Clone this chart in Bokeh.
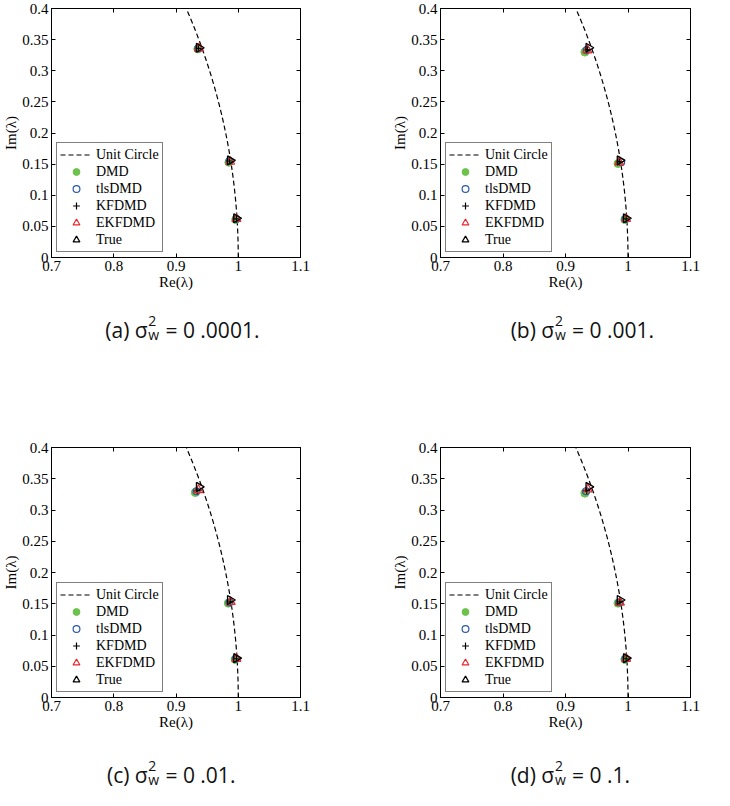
import numpy as np
from bokeh.plotting import figure
from bokeh.models import (Range1d, LinearAxis, FixedTicker, Legend, LegendItem,
                          CustomJSTickFormatter)
from bokeh.layouts import column, row
from bokeh.core.properties import value
from bokeh.embed import file_html
from bokeh.resources import INLINE

# ---------------- data ----------------
panel_letters = ["(a)", "(b)", "(c)", "(d)"]
noise_values = ["= 0 .0001.", "= 0 .001.", "= 0 .01.", "= 0 .1."]

x_ticks = [0.7, 0.8, 0.9, 1.0, 1.1]
x_tick_labels = ["0.7", "0.8", "0.9", "1", "1.1"]
y_ticks = [0, 0.05, 0.1, 0.15, 0.2, 0.25, 0.3, 0.35, 0.4]
y_tick_labels = ["0", "0.05", "0.1", "0.15", "0.2", "0.25", "0.3", "0.35", "0.4"]

legend_labels = ["Unit Circle", "DMD", "tlsDMD", "KFDMD", "EKFDMD", "True"]

true_re = [0.937, 0.987, 0.997]
true_im = [0.337, 0.156, 0.063]

# one list per panel (a), (b), (c), (d)
dmd_re = [[0.935, 0.985, 0.996], [0.931, 0.984, 0.995], [0.931, 0.984, 0.995], [0.931, 0.984, 0.995]]
dmd_im = [[0.335, 0.153, 0.061], [0.330, 0.151, 0.061], [0.328, 0.151, 0.061], [0.327, 0.151, 0.061]]
tls_re = [[0.936, 0.986, 0.997], [0.934, 0.989, 0.996], [0.933, 0.986, 0.996], [0.933, 0.986, 0.996]]
tls_im = [[0.336, 0.155, 0.062], [0.333, 0.153, 0.062], [0.330, 0.152, 0.062], [0.330, 0.152, 0.062]]
kf_re = [[0.936, 0.986, 0.997], [0.935, 0.986, 0.997], [0.934, 0.987, 0.997], [0.934, 0.987, 0.997]]
kf_im = [[0.336, 0.155, 0.062], [0.334, 0.154, 0.062], [0.331, 0.153, 0.062], [0.331, 0.153, 0.062]]
ekf_re = [[0.937, 0.987, 0.997], [0.935, 0.986, 0.997], [0.936, 0.988, 0.997], [0.936, 0.987, 0.997]]
ekf_im = [[0.336, 0.154, 0.062], [0.333, 0.153, 0.062], [0.332, 0.153, 0.062], [0.333, 0.152, 0.062]]

# ---------------- layout (page pixels) ----------------
col_x = [0, 365, 0, 365]          # left edge of each column's figures
col_w = [365, 365, 365, 365]
panel_top = [0, 0, 438, 438]      # top of each panel figure
panel_h = [300, 300, 302, 302]
frames = [(49, 8, 251, 249), (440, 8, 250, 249), (49, 447, 251, 250), (440, 447, 250, 250)]
caption_h = [138, 138, 64, 64]
sigma_end_x = [141, 531, 141, 531]
caption_base_y = [329, 329, 774, 774]

SERIF = "Liberation Serif"
SANS = "Open Sans"
CAP_COLOR = "#111111"

fmt_code = """
for (let i = 0; i < tv.length; i++) { if (Math.abs(tv[i] - tick) < 1e-9) return tl[i]; }
return "";
"""


def style_axis(ax, show):
    ax.major_tick_in = 4
    ax.major_tick_out = 0
    ax.minor_tick_in = 0
    ax.minor_tick_out = 0
    ax.axis_line_color = "black"
    ax.major_tick_line_color = "black"
    if show:
        ax.major_label_text_font = SERIF
        ax.major_label_text_font_size = "15px"
        ax.major_label_text_color = "black"
        ax.major_label_standoff = 3
        ax.axis_label_text_font = SERIF
        ax.axis_label_text_font_size = "15px"
        ax.axis_label_text_font_style = "normal"
        ax.axis_label_text_color = "black"
        ax.axis_label_standoff = 0
    else:
        ax.major_label_text_font_size = "0px"
        ax.major_label_text_color = None
        ax.major_label_standoff = 0


def make_panel(k):
    fx, fy = col_x[k], panel_top[k]
    W, H = col_w[k], panel_h[k]
    fl, ft, fw, fh = frames[k]
    left = fl - fx
    top = ft - fy
    right = W - left - fw
    bottom = H - top - fh

    p = figure(width=W, height=H, x_range=Range1d(0.7, 1.1), y_range=Range1d(0, 0.4),
               output_backend="svg", toolbar_location=None, title=None,
               min_border_left=left, min_border_right=right,
               min_border_top=top, min_border_bottom=bottom,
               x_axis_location=None, y_axis_location=None)
    p.xgrid.visible = False
    p.ygrid.visible = False
    p.outline_line_color = "black"
    p.outline_line_width = 1
    p.background_fill_color = "white"
    p.border_fill_color = "white"

    xfmt = CustomJSTickFormatter(args=dict(tv=x_ticks, tl=x_tick_labels), code=fmt_code)
    yfmt = CustomJSTickFormatter(args=dict(tv=y_ticks, tl=y_tick_labels), code=fmt_code)

    xb = LinearAxis(ticker=FixedTicker(ticks=x_ticks), formatter=xfmt, axis_label="Re(λ)")
    style_axis(xb, True)
    p.add_layout(xb, "below")
    yl = LinearAxis(ticker=FixedTicker(ticks=y_ticks), formatter=yfmt, axis_label="Im(λ)")
    style_axis(yl, True)
    p.add_layout(yl, "left")
    xt = LinearAxis(ticker=FixedTicker(ticks=x_ticks), formatter=xfmt)
    style_axis(xt, False)
    p.add_layout(xt, "above")
    yr = LinearAxis(ticker=FixedTicker(ticks=y_ticks), formatter=yfmt)
    style_axis(yr, False)
    p.add_layout(yr, "right")

    theta = np.linspace(0, np.pi / 2, 400)
    r_circle = p.line(np.cos(theta), np.sin(theta), line_color="black", line_width=1.2,
                      line_dash="5 3")
    r_dmd = p.scatter(dmd_re[k], dmd_im[k], marker="circle", size=8,
                      fill_color="#6cc24a", line_color="#6cc24a")
    r_tls = p.scatter(tls_re[k], tls_im[k], marker="circle", size=7,
                      fill_color=None, line_color="#2a58b0", line_width=1.2)
    r_kf = p.scatter(kf_re[k], kf_im[k], marker="cross", size=7,
                     line_color="black", line_width=1.2)
    r_ekf = p.scatter(ekf_re[k], ekf_im[k], marker="triangle", size=9,
                      fill_color=None, line_color="#e8282c", line_width=1.2)
    r_true = p.scatter(true_re, true_im, marker="triangle", size=9, angle=-np.pi / 2,
                       fill_color=None, line_color="black", line_width=1.3)

    items = [LegendItem(label=lab, renderers=[r]) for lab, r in
             zip(legend_labels, [r_circle, r_dmd, r_tls, r_kf, r_ekf, r_true])]
    legend = Legend(items=items, location="bottom_left", margin=5, padding=3, spacing=0,
                    glyph_width=32, glyph_height=17, label_height=17, label_standoff=4,
                    border_line_color="black", border_line_width=1,
                    background_fill_color="white", background_fill_alpha=1,
                    label_text_font=SERIF, label_text_font_size="14px",
                    label_text_color="black", label_text_baseline="middle")
    p.add_layout(legend)
    return p


def make_caption(k):
    W, Hc = col_w[k], caption_h[k]
    c = figure(width=W, height=Hc, x_range=Range1d(0, W), y_range=Range1d(Hc, 0),
               output_backend="svg", toolbar_location=None, title=None, min_border=0,
               x_axis_location=None, y_axis_location=None)
    c.xgrid.visible = False
    c.ygrid.visible = False
    c.outline_line_color = None
    c.background_fill_color = "white"
    c.border_fill_color = "white"
    top = panel_top[k] + panel_h[k]
    se = sigma_end_x[k] - col_x[k]
    by = caption_base_y[k] - top
    c.text(x=[se], y=[by], text=[panel_letters[k] + " σ"], text_font=value(SANS),
           text_font_size=value("21px"), text_align=value("right"),
           text_baseline=value("alphabetic"), text_color=CAP_COLOR)
    c.text(x=[se + 1], y=[by - 9], text=["2"], text_font=value(SANS),
           text_font_size=value("14px"), text_align=value("left"),
           text_baseline=value("alphabetic"), text_color=CAP_COLOR)
    c.text(x=[se + 1], y=[by + 5], text=["w"], text_font=value(SANS),
           text_font_size=value("14px"), text_align=value("left"),
           text_baseline=value("alphabetic"), text_color=CAP_COLOR)
    c.text(x=[se + 26], y=[by], text=[noise_values[k]], text_font=value(SANS),
           text_font_size=value("21px"), text_align=value("left"),
           text_baseline=value("alphabetic"), text_color=CAP_COLOR)
    return c


cols = [column(make_panel(k), make_caption(k)) for k in range(4)]
layout = column(row(cols[0], cols[1]), row(cols[2], cols[3]))
open("out.html", "w").write(file_html(layout, INLINE))
